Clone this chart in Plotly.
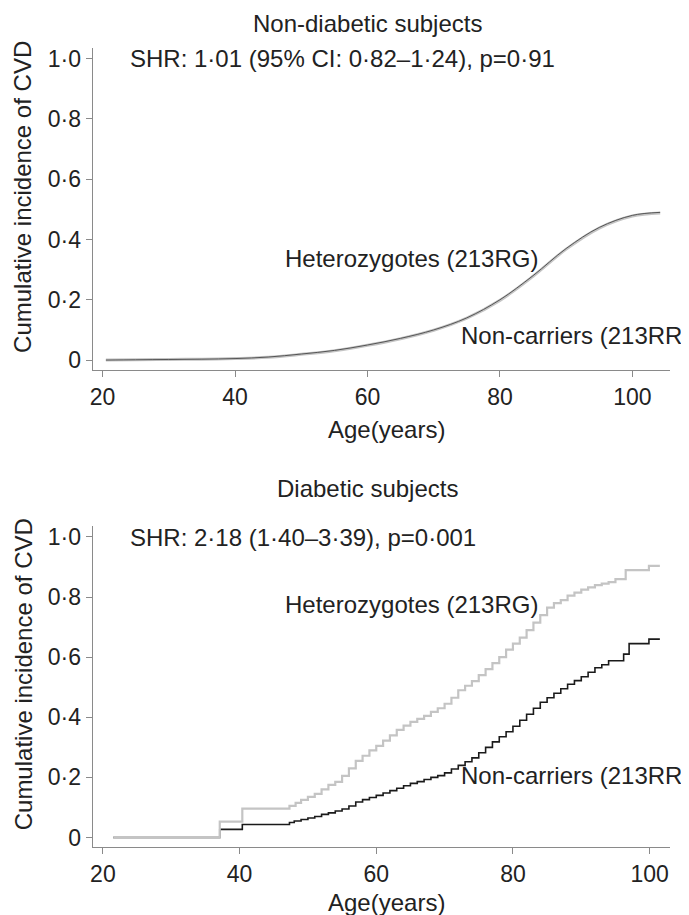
import plotly.graph_objects as go

# Non-diabetic subjects (smooth curves, nearly overlapping)
top_age = [20.5, 25, 30, 35, 40, 45, 50, 55, 60, 65, 70, 75, 80, 85, 90, 95, 100, 104.2]
top_rg = [0, 0.001, 0.002, 0.003, 0.005, 0.009, 0.019, 0.031, 0.049, 0.071, 0.099, 0.139, 0.198, 0.278, 0.368, 0.438, 0.478, 0.488]
top_rr = [0, 0.001, 0.002, 0.003, 0.005, 0.01, 0.02, 0.032, 0.05, 0.072, 0.1, 0.14, 0.2, 0.28, 0.37, 0.44, 0.48, 0.49]

# Diabetic subjects (step curves)
bot_rg_age = [21.5, 37.1, 40.4, 47.3, 48.2, 49, 50, 51, 52, 53, 54, 55, 56, 57, 58, 59, 60, 61, 62, 63, 64,
              65, 66, 67, 68, 69, 70, 71, 72, 73, 74, 75, 76, 77, 78, 79, 80, 81, 82, 83, 84, 85, 86, 87,
              88, 89, 90, 91, 92, 93, 94, 95, 96.5, 99.9, 101.5]
bot_rg = [0, 0.053, 0.096, 0.105, 0.115, 0.125, 0.135, 0.145, 0.16, 0.175, 0.185, 0.205, 0.23, 0.255, 0.272,
          0.29, 0.305, 0.322, 0.34, 0.358, 0.372, 0.385, 0.395, 0.405, 0.418, 0.43, 0.445, 0.465, 0.49, 0.505,
          0.52, 0.54, 0.56, 0.58, 0.60, 0.625, 0.645, 0.665, 0.69, 0.715, 0.74, 0.765, 0.78, 0.79, 0.805,
          0.815, 0.825, 0.832, 0.84, 0.845, 0.85, 0.86, 0.89, 0.904, 0.904]
bot_rr_age = [21.5, 37.1, 40.4, 47.3, 48, 49, 50, 51, 52, 53, 54, 55, 56, 57, 58, 59, 60, 61, 62, 63, 64, 65,
              66, 67, 68, 69, 70, 71, 72, 73, 74, 75, 76, 77, 78, 79, 80, 81, 82, 83, 84, 85, 86, 87, 88, 89,
              90, 91, 92, 93, 94, 96.2, 97, 99.9, 101.5]
bot_rr = [0, 0.027, 0.043, 0.05, 0.055, 0.06, 0.065, 0.07, 0.077, 0.082, 0.088, 0.095, 0.105, 0.118, 0.126,
          0.133, 0.14, 0.148, 0.156, 0.164, 0.172, 0.18, 0.186, 0.193, 0.2, 0.206, 0.215, 0.228, 0.24, 0.252,
          0.265, 0.282, 0.3, 0.318, 0.335, 0.352, 0.37, 0.39, 0.41, 0.43, 0.45, 0.465, 0.48, 0.495, 0.51,
          0.522, 0.535, 0.55, 0.565, 0.575, 0.588, 0.61, 0.645, 0.66, 0.66]

y_ticks = [0, 0.2, 0.4, 0.6, 0.8, 1.0]
y_labels = ['0', '0·2', '0·4', '0·6', '0·8', '1·0']
x_ticks = [20, 40, 60, 80, 100]

FONT = "Liberation Sans, Arial, Helvetica, sans-serif"
TXT = '#222222'
AX = '#8a8a8a'
LIGHT = '#c4c4c4'
DARK = '#1a1a1a'
W, H = 689, 915

fig = go.Figure()
fig.add_trace(go.Scatter(x=top_age, y=top_rg, mode='lines', line=dict(color=LIGHT, width=3, shape='spline'),
                         xaxis='x', yaxis='y', showlegend=False))
fig.add_trace(go.Scatter(x=top_age, y=top_rr, mode='lines', line=dict(color='#555555', width=1, shape='spline'),
                         xaxis='x', yaxis='y', showlegend=False))
fig.add_trace(go.Scatter(x=bot_rr_age, y=bot_rr, mode='lines', line=dict(color=DARK, width=1.6, shape='hv'),
                         xaxis='x2', yaxis='y2', showlegend=False))
fig.add_trace(go.Scatter(x=bot_rg_age, y=bot_rg, mode='lines', line=dict(color=LIGHT, width=2.2, shape='hv'),
                         xaxis='x2', yaxis='y2', showlegend=False))


def px(x):
    return x / W


def py(y):
    return 1 - y / H


axis_common = dict(showline=True, linecolor=AX, linewidth=1, ticks='outside', ticklen=6, tickcolor=AX,
                   showgrid=False, zeroline=False, tickfont=dict(family=FONT, size=23, color=TXT))

fig.update_layout(
    width=W, height=H,
    margin=dict(l=0, r=0, t=0, b=0),
    paper_bgcolor='white', plot_bgcolor='white',
    xaxis=dict(domain=[px(82), px(662)], range=[18.5, 105.7], tickvals=x_ticks, anchor='y', **axis_common),
    yaxis=dict(domain=[py(362), py(38)], range=[-0.033, 1.036], tickvals=y_ticks, ticktext=y_labels,
               anchor='x', **axis_common),
    xaxis2=dict(domain=[px(82), px(662)], range=[18.5, 103.0], tickvals=x_ticks, anchor='y2', **axis_common),
    yaxis2=dict(domain=[py(842), py(519)], range=[-0.033, 1.036], tickvals=y_ticks, ticktext=y_labels,
                anchor='x2', **axis_common),
)

labels = [
    ('Non-diabetic subjects', 358, 14, 'center', 0),
    ('SHR: 1·01 (95% CI: 0·82–1·24), p=0·91', 118, 49, 'left', 0),
    ('Heterozygotes (213RG)', 273, 250, 'left', 0),
    ('Non-carriers (213RR)', 684, 327, 'right', 0),
    ('Age(years)', 377, 422, 'center', 0),
    ('Cumulative incidence of CVD', 12, 188, 'center', -90),
    ('Diabetic subjects', 358, 481, 'center', 0),
    ('SHR: 2·18 (1·40–3·39), p=0·001', 118, 530, 'left', 0),
    ('Heterozygotes (213RG)', 273, 598, 'left', 0),
    ('Non-carriers (213RR)', 684, 770, 'right', 0),
    ('Age(years)', 377, 897, 'center', 0),
    ('Cumulative incidence of CVD', 12, 668, 'center', -90),
]
for text, x, y, align, angle in labels:
    fig.add_annotation(text=text, x=px(x), y=py(y), xref='paper', yref='paper', xanchor=align,
                       yanchor='middle', showarrow=False, textangle=angle,
                       font=dict(family=FONT, size=24, color=TXT))

fig.write_html("out.html")
